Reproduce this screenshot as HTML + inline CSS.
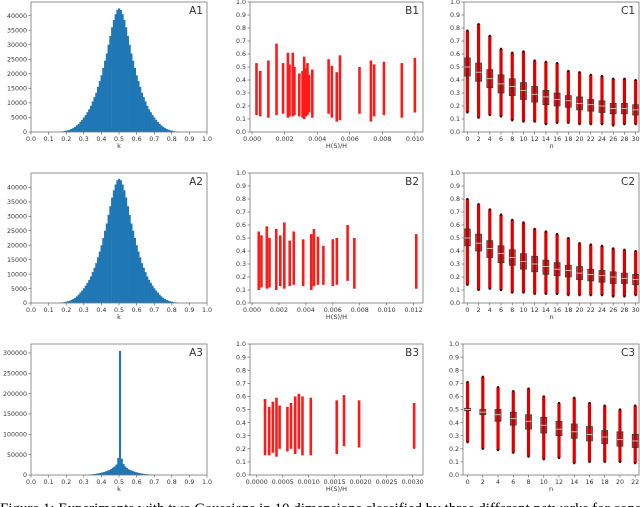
<!DOCTYPE html>
<html><head><meta charset="utf-8"><style>
body{margin:0;background:#fff;width:640px;height:507px;overflow:hidden}
svg{display:block}
text{font-family:"DejaVu Sans","Liberation Sans",sans-serif;fill:#333}
.cap{font-family:"Liberation Serif",serif;font-size:15px;fill:#000}
</style></head><body>
<svg id="fig" width="640" height="507" viewBox="0 0 640 507" xmlns="http://www.w3.org/2000/svg">
<text class="cap" x="0" y="513">Figure 1: Experiments with two Gaussians in 10 dimensions classified by three different networks for constant batch</text>
</svg>
<script>
// ---------- data ----------
const histA1Start = 0.155, histA1Width = 0.01;
const histA1Counts = [60,120,200,300,450,600,800,1050,1400,1800,2300,2800,3500,4200,5000,5800,6800,7800,9000,10500,12000,13500,15500,17500,19500,22000,24500,27000,30000,33000,36000,38500,40500,42000,42500,42000,40500,38500,36000,33000,30000,27000,24500,22000,19500,17500,15500,13500,12000,10500,9000,7800,6800,5800,5000,4200,3500,2800,2300,1800,1400,1050,800,600,450,300,200,120,60];
const histA2Start = 0.155, histA2Width = 0.01;
const histA2Counts = [60,120,200,300,450,600,800,1050,1400,1800,2300,2900,3600,4300,5100,6000,7000,8000,9200,10700,12200,13800,15800,17800,20000,22500,25000,27500,30500,33500,36500,39000,41000,42500,43000,42500,41000,39000,36500,33500,30500,27500,25000,22500,20000,17800,15800,13800,12200,10700,9200,8000,7000,6000,5100,4300,3600,2900,2300,1800,1400,1050,800,600,450,300,200,120,60];
const histA3Start = 0.30, histA3Width = 0.01;
const histA3Counts = [500,700,1000,1300,1700,2200,2800,3500,4300,5200,6300,7500,9000,10500,12500,15000,18000,21000,26000,42000,305000,40000,27000,21000,17000,14000,12000,10000,8500,7000,6000,5000,4000,3200,2500,2000,1500,1100,700,400];
const histXTicks = [0,0.1,0.2,0.3,0.4,0.5,0.6,0.7,0.8,0.9,1.0];
const histA1YTicks = [0,5000,10000,15000,20000,25000,30000,35000,40000];
const histA3YTicks = [0,50000,100000,150000,200000,250000,300000];

const scatB1X = [0.00027,0.0005,0.001,0.0015,0.0019,0.0022,0.0023,0.0025,0.0026,0.0029,0.0031,0.0032,0.0033,0.0034,0.0035,0.0037,0.0047,0.0049,0.0052,0.0054,0.0066,0.0073,0.0075,0.0081,0.0092,0.0100];
const scatB1Lo = [0.13,0.12,0.11,0.13,0.14,0.11,0.12,0.12,0.13,0.12,0.11,0.10,0.12,0.13,0.15,0.11,0.14,0.11,0.08,0.09,0.14,0.08,0.12,0.13,0.11,0.15];
const scatB1Hi = [0.53,0.47,0.55,0.68,0.53,0.61,0.52,0.61,0.50,0.45,0.47,0.58,0.49,0.53,0.44,0.48,0.56,0.51,0.46,0.59,0.50,0.55,0.52,0.54,0.53,0.57];
const scatB2X = [0.0005,0.0007,0.0011,0.0013,0.0018,0.0021,0.0024,0.0028,0.0031,0.0038,0.0044,0.0046,0.0049,0.0053,0.006,0.0063,0.0071,0.0076,0.0122];
const scatB2Lo = [0.10,0.12,0.11,0.12,0.10,0.13,0.11,0.13,0.14,0.13,0.10,0.13,0.14,0.14,0.13,0.14,0.17,0.11,0.11];
const scatB2Hi = [0.55,0.52,0.59,0.50,0.57,0.52,0.62,0.48,0.55,0.49,0.53,0.57,0.51,0.44,0.49,0.50,0.60,0.50,0.53];
const scatB3X = [0.00016,0.00024,0.00031,0.00038,0.00044,0.00059,0.00066,0.00074,0.00081,0.00088,0.00104,0.00154,0.00168,0.00197,0.00303];
const scatB3Lo = [0.15,0.15,0.17,0.14,0.20,0.18,0.20,0.16,0.20,0.15,0.15,0.16,0.22,0.21,0.20];
const scatB3Hi = [0.58,0.52,0.56,0.59,0.53,0.52,0.55,0.60,0.62,0.60,0.59,0.57,0.61,0.57,0.55];
const b1XTicks = [0,0.002,0.004,0.006,0.008,0.010];
const b2XTicks = [0,0.002,0.004,0.006,0.008,0.010,0.012];
const b3XTicks = [0,0.0005,0.0010,0.0015,0.0020,0.0025,0.0030];
const probYTicks = [0,0.1,0.2,0.3,0.4,0.5,0.6,0.7,0.8,0.9,1.0];

const boxC1N = [0,2,4,6,8,10,12,14,16,18,20,22,24,26,28,30];
const boxC1Med = [0.50,0.46,0.41,0.37,0.35,0.32,0.29,0.27,0.25,0.24,0.22,0.21,0.20,0.18,0.18,0.17];
const boxC1Q1 = [0.43,0.39,0.34,0.30,0.28,0.25,0.23,0.21,0.20,0.19,0.17,0.16,0.15,0.14,0.14,0.13];
const boxC1Q3 = [0.57,0.53,0.48,0.44,0.41,0.38,0.35,0.32,0.30,0.28,0.27,0.25,0.24,0.22,0.22,0.21];
const boxC1Lo = [0.15,0.11,0.13,0.12,0.09,0.08,0.08,0.06,0.07,0.07,0.06,0.06,0.06,0.05,0.06,0.06];
const boxC1Hi = [0.78,0.83,0.74,0.64,0.61,0.62,0.55,0.54,0.53,0.47,0.46,0.44,0.43,0.41,0.41,0.40];
const boxC2N = [0,2,4,6,8,10,12,14,16,18,20,22,24,26,28,30];
const boxC2Med = [0.50,0.46,0.42,0.38,0.35,0.32,0.30,0.28,0.26,0.25,0.23,0.22,0.21,0.20,0.19,0.18];
const boxC2Q1 = [0.44,0.40,0.35,0.31,0.29,0.26,0.24,0.22,0.21,0.20,0.18,0.17,0.16,0.15,0.15,0.14];
const boxC2Q3 = [0.57,0.53,0.48,0.44,0.41,0.38,0.36,0.33,0.31,0.29,0.28,0.26,0.25,0.24,0.23,0.22];
const boxC2Lo = [0.14,0.10,0.11,0.10,0.08,0.08,0.07,0.07,0.07,0.06,0.06,0.06,0.06,0.05,0.05,0.06];
const boxC2Hi = [0.80,0.76,0.72,0.68,0.64,0.62,0.57,0.55,0.53,0.50,0.46,0.45,0.44,0.42,0.41,0.40];
const boxC3N = [0,2,4,6,8,10,12,14,16,18,20,22];
const boxC3Med = [0.50,0.48,0.46,0.43,0.41,0.38,0.35,0.33,0.31,0.29,0.27,0.26];
const boxC3Q1 = [0.49,0.46,0.41,0.38,0.35,0.32,0.30,0.28,0.26,0.24,0.22,0.21];
const boxC3Q3 = [0.51,0.50,0.50,0.48,0.46,0.44,0.41,0.39,0.37,0.34,0.33,0.31];
const boxC3Lo = [0.25,0.20,0.19,0.17,0.14,0.12,0.13,0.09,0.10,0.10,0.10,0.09];
const boxC3Hi = [0.71,0.75,0.67,0.64,0.66,0.60,0.55,0.59,0.55,0.53,0.50,0.53];

// ---------- drawing ----------
const NS = 'http://www.w3.org/2000/svg';
const svg = document.getElementById('fig');
function mk(tag, attrs, parent){
  const e = document.createElementNS(NS, tag);
  for (const k in attrs) e.setAttribute(k, attrs[k]);
  (parent||svg).appendChild(e);
  return e;
}
function fmt(v, d){ return v.toFixed(d); }

function axes(g, P, xTicks, xDec, yTicks, yDec, xlabel, title){
  const sx = v => P.l + (v - P.x0)/(P.x1 - P.x0)*(P.r - P.l);
  const sy = v => P.b - (v - P.y0)/(P.y1 - P.y0)*(P.b - P.t);
  const frame = mk('rect',{x:P.l,y:P.t,width:P.r-P.l,height:P.b-P.t,fill:'none',stroke:'#777','stroke-width':0.8},g);
  
  
  xTicks.forEach(v=>{
    const x = sx(v);
    mk('line',{x1:x,x2:x,y1:P.b,y2:P.b+2.5,stroke:'#555','stroke-width':0.6},g);
    const t = mk('text',{x:x,y:P.b+9,'font-size':6.3,'text-anchor':'middle'},g);
    t.textContent = fmt(v,xDec);
    
    
  });
  yTicks.forEach(v=>{
    const y = sy(v);
    mk('line',{x1:P.l-2.5,x2:P.l,y1:y,y2:y,stroke:'#555','stroke-width':0.6},g);
    const t = mk('text',{x:P.l-4,y:y+2.2,'font-size':6.3,'text-anchor':'end'},g);
    t.textContent = fmt(v,yDec);
    
    
  });
  const xl = mk('text',{x:(P.l+P.r)/2,y:P.b+16,'font-size':6.5,'text-anchor':'middle'},g);
  xl.textContent = xlabel;
  
  
  const tt = mk('text',{x:P.r-4,y:P.t+12,'font-size':10.5,'text-anchor':'end',fill:'#111'},g);
  tt.textContent = title;
  
  
  return {sx, sy};
}

function hist(P, start, width, counts, yTicks, title){
  const g = mk('g',{});
  
  
  const sx = v => P.l + (v - P.x0)/(P.x1 - P.x0)*(P.r - P.l);
  const sy = v => P.b - (v - P.y0)/(P.y1 - P.y0)*(P.b - P.t);
  counts.forEach((c,i)=>{
    const x0 = sx(start + i*width), x1 = sx(start + (i+1)*width);
    const r = mk('rect',{x:x0,y:sy(c),width:x1-x0+0.3,height:P.b-sy(c),fill:'#1f77b4'},g);
    
    
  });
  axes(g,P,histXTicks,1,yTicks,0,'k',title);
}

function scatter(P, xs, lo, hi, xTicks, xDec, title){
  const g = mk('g',{});
  
  
  const sx = v => P.l + (v - P.x0)/(P.x1 - P.x0)*(P.r - P.l);
  const sy = v => P.b - (v - P.y0)/(P.y1 - P.y0)*(P.b - P.t);
  xs.forEach((v,i)=>{
    const x = sx(v);
    const r = mk('rect',{x:x-1.3,y:sy(hi[i]),width:2.6,height:sy(lo[i])-sy(hi[i]),fill:'#ff1a1a'},g);
    
    
  });
  axes(g,P,xTicks,xDec,probYTicks,1,'H(S)/H',title);
}

function boxes(P, ns, med, q1, q3, lo, hi, title){
  const g = mk('g',{});
  
  
  const sx = v => P.l + (v - P.x0)/(P.x1 - P.x0)*(P.r - P.l);
  const sy = v => P.b - (v - P.y0)/(P.y1 - P.y0)*(P.b - P.t);
  ns.forEach((n,i)=>{
    const x = sx(n);
    const w = mk('rect',{x:x-1.6,y:sy(hi[i]),width:3.2,height:sy(lo[i])-sy(hi[i]),fill:'#e00000'},g);
    
    
    mk('rect',{x:x-1,y:sy(hi[i])-1,width:2,height:2,fill:'#300'},g);
    mk('rect',{x:x-1,y:sy(lo[i])-1,width:2,height:2,fill:'#300'},g);
    const b = mk('rect',{x:x-3,y:sy(q3[i]),width:6,height:Math.max(1,sy(q1[i])-sy(q3[i])),fill:'#b30000','fill-opacity':0.75,stroke:'#333','stroke-width':0.7},g);
    
    
    const m = mk('line',{x1:x-3,x2:x+3,y1:sy(med[i]),y2:sy(med[i]),stroke:'#ddd','stroke-width':0.8},g);
    
    
  });
  axes(g,P,ns,0,probYTicks,1,'n',title);
}

const rows = [[2,132],[173,303],[344,475]];
hist({l:31,r:207,t:rows[0][0],b:rows[0][1],x0:0,x1:1,y0:0,y1:44700}, histA1Start, histA1Width, histA1Counts, histA1YTicks,'A1');
hist({l:31,r:207,t:rows[1][0],b:rows[1][1],x0:0,x1:1,y0:0,y1:45000}, histA2Start, histA2Width, histA2Counts, histA1YTicks,'A2');
hist({l:31,r:207,t:rows[2][0],b:rows[2][1],x0:0,x1:1,y0:0,y1:322000}, histA3Start, histA3Width, histA3Counts, histA3YTicks,'A3');
scatter({l:250,r:423,t:rows[0][0],b:rows[0][1],x0:-0.00013,x1:0.0105,y0:0,y1:1}, scatB1X, scatB1Lo, scatB1Hi, b1XTicks,3,'B1');
scatter({l:250,r:423,t:rows[1][0],b:rows[1][1],x0:-0.00015,x1:0.0127,y0:0,y1:1}, scatB2X, scatB2Lo, scatB2Hi, b2XTicks,3,'B2');
scatter({l:250,r:423,t:rows[2][0],b:rows[2][1],x0:-0.00013,x1:0.0032,y0:0,y1:1}, scatB3X, scatB3Lo, scatB3Hi, b3XTicks,4,'B3');
boxes({l:464,r:639,t:rows[0][0],b:rows[0][1],x0:-0.6,x1:30.6,y0:0,y1:1}, boxC1N, boxC1Med, boxC1Q1, boxC1Q3, boxC1Lo, boxC1Hi,'C1');
boxes({l:464,r:639,t:rows[1][0],b:rows[1][1],x0:-0.6,x1:30.6,y0:0,y1:1}, boxC2N, boxC2Med, boxC2Q1, boxC2Q3, boxC2Lo, boxC2Hi,'C2');
boxes({l:463,r:639,t:rows[2][0],b:rows[2][1],x0:-0.6,x1:22.5,y0:0,y1:1}, boxC3N, boxC3Med, boxC3Q1, boxC3Q3, boxC3Lo, boxC3Hi,'C3');
</script>
</body></html>
